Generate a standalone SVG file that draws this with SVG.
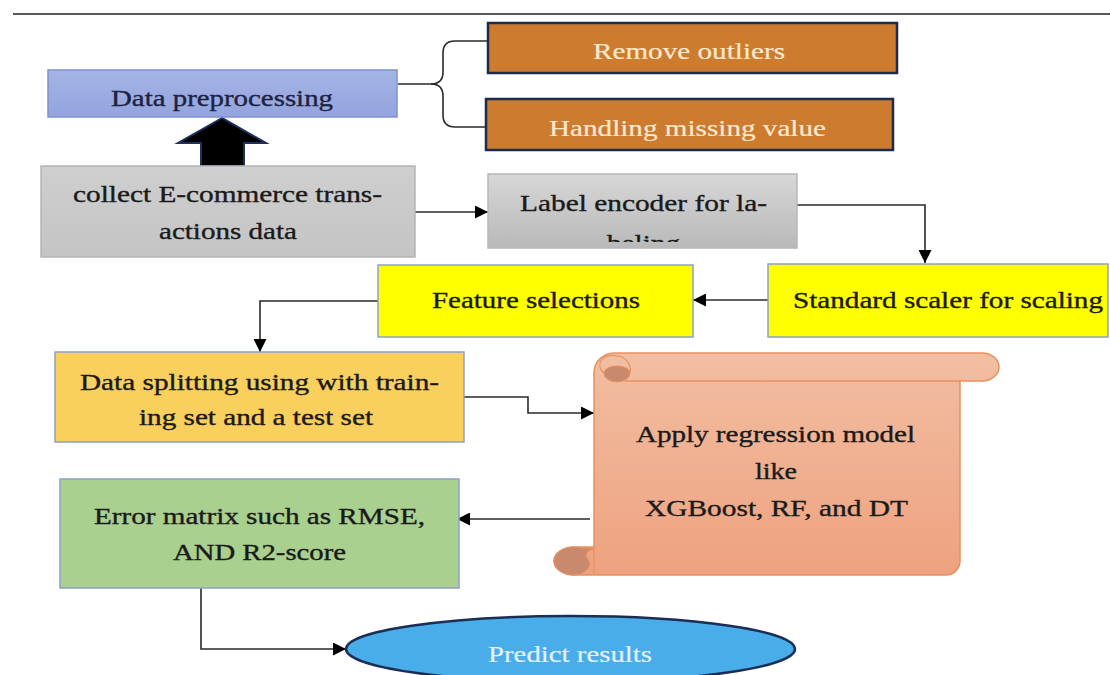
<svg xmlns="http://www.w3.org/2000/svg" width="1110" height="675" viewBox="0 0 1110 675">
<style>
.t{font-family:"Liberation Serif","Times New Roman",serif;font-size:23px;fill:#1a1a1a;stroke:#1a1a1a;stroke-width:0.35;text-anchor:middle}
.w{fill:#fbe8cf;stroke:#fbe8cf;stroke-width:0.2}
.conn{fill:none;stroke:#2a2a2a;stroke-width:1.6}
.box{stroke:#8ea0c6;stroke-width:1.5}
</style>
<defs>
<marker id="ah" viewBox="0 0 10 10" refX="10" refY="5" markerUnits="userSpaceOnUse" markerWidth="18" markerHeight="13" orient="auto">
<path d="M0,0 L10,5 L0,10 Z" fill="#000"/>
</marker>
<linearGradient id="gray" x1="0" y1="0" x2="0" y2="1">
<stop offset="0" stop-color="#d7d7d7"/><stop offset="1" stop-color="#b9b9b9"/>
</linearGradient>
<linearGradient id="gray2" x1="0" y1="0" x2="0" y2="1">
<stop offset="0" stop-color="#cfcfcf"/><stop offset="1" stop-color="#c4c4c4"/>
</linearGradient>
<linearGradient id="blue" x1="0" y1="0" x2="0" y2="1">
<stop offset="0" stop-color="#a5b4e6"/><stop offset="1" stop-color="#93a4de"/>
</linearGradient>
<linearGradient id="salmon" x1="0" y1="0" x2="0" y2="1">
<stop offset="0" stop-color="#f2bea2"/><stop offset="1" stop-color="#eea27f"/>
</linearGradient>
<clipPath id="lblclip"><rect x="488" y="174" width="309" height="68"/></clipPath>
</defs>

<line x1="13" y1="14" x2="1110" y2="14" stroke="#222" stroke-width="1.5"/>

<g id="connectors">
<path class="conn" d="M398,84 L431,84 Q443,84 443,72 L443,53 Q443,41 455,41 L487,41"/>
<path class="conn" d="M431,84 Q443,84 443,96 L443,115 Q443,127 455,127 L486,127"/>
<path class="conn" d="M415,212 L488,212" marker-end="url(#ah)"/>
<path class="conn" d="M797,205 L925,205 L925,263" marker-end="url(#ah)"/>
<path class="conn" d="M768,300 L693,300" marker-end="url(#ah)"/>
<path class="conn" d="M378,301 L260,301 L260,352" marker-end="url(#ah)"/>
<path class="conn" d="M464,397 L528,397 L528,413 L594,413" marker-end="url(#ah)"/>
<path class="conn" d="M590,519 L457,519" marker-end="url(#ah)"/>
<path class="conn" d="M201,588 L201,649 L346,649" marker-end="url(#ah)"/>
<polygon points="222,118 178,143 201,143 201,166 244,166 244,143 266,143" fill="#000" stroke="#1f3060" stroke-width="2"/>
</g>

<g id="data-preprocessing">
<rect x="48" y="70" width="349" height="47" fill="url(#blue)" stroke="#7f90cf" stroke-width="1.5"/>
<text class="t" x="222" y="106" textLength="222" lengthAdjust="spacingAndGlyphs" style="fill:#1c2340;stroke:#1c2340">Data preprocessing</text>
</g>

<g id="remove-outliers">
<rect x="488" y="23" width="409" height="50" fill="#cd7c2f" stroke="#1f2a48" stroke-width="2.5"/>
<text class="t w" x="689" y="59" textLength="192" lengthAdjust="spacingAndGlyphs">Remove outliers</text>
</g>

<g id="handling-missing">
<rect x="486" y="99" width="407" height="51" fill="#cd7c2f" stroke="#1f2a48" stroke-width="2.5"/>
<text class="t w" x="687.5" y="136" textLength="277" lengthAdjust="spacingAndGlyphs">Handling missing value</text>
</g>

<g id="collect-data">
<rect x="41" y="166" width="374" height="91" fill="url(#gray2)" stroke="#b5b5b5" stroke-width="1.5"/>
<text class="t" x="227.5" y="202" textLength="309" lengthAdjust="spacingAndGlyphs">collect E-commerce trans-</text>
<text class="t" x="228" y="239" textLength="138" lengthAdjust="spacingAndGlyphs">actions data</text>
</g>

<g id="label-encoder">
<rect x="488" y="174" width="309" height="74" fill="url(#gray)" stroke="#b8b8b8" stroke-width="1.5"/>
<text class="t" x="643.5" y="211" textLength="247" lengthAdjust="spacingAndGlyphs">Label encoder for la-</text>
<g clip-path="url(#lblclip)">
<text class="t" x="643.5" y="251" textLength="73" lengthAdjust="spacingAndGlyphs">beling</text>
</g>
</g>

<g id="standard-scaler">
<rect x="768" y="264" width="340" height="73" fill="#ffff00" class="box"/>
<text class="t" x="948" y="308" textLength="310" lengthAdjust="spacingAndGlyphs">Standard scaler for scaling</text>
</g>

<g id="feature-selections">
<rect x="378" y="265" width="315" height="72" fill="#ffff00" class="box"/>
<text class="t" x="536" y="308" textLength="208" lengthAdjust="spacingAndGlyphs">Feature selections</text>
</g>

<g id="data-splitting">
<rect x="55" y="352" width="409" height="90" fill="#f9cf5d" class="box"/>
<text class="t" x="259.5" y="390" textLength="359" lengthAdjust="spacingAndGlyphs">Data splitting using with train-</text>
<text class="t" x="256" y="425" textLength="234" lengthAdjust="spacingAndGlyphs">ing set and a test set</text>
</g>

<g id="regression-model">
<path d="M594,373 A20,20 0 0 1 614,353 L982,353 A17,14 0 0 1 982,381 L960,381 L960,561 A14,14 0 0 1 946,575 L574,575 A20,14 0 0 1 574,547 L594,547 Z" fill="url(#salmon)" stroke="#e8905f" stroke-width="1.5"/>
<path d="M625,381 L960,381" fill="none" stroke="#e8905f" stroke-width="1.5"/>
<path d="M604,373 A13,9 0 0 0 630,373 A13,7 0 0 0 604,373 Z" fill="#c9896c" stroke="#e8905f" stroke-width="1"/>
<path d="M630,373 A14,14 0 0 0 616,356 A12,10 0 0 0 604,373" fill="none" stroke="#e8905f" stroke-width="1.2"/>
<path d="M574,547 A20,14 0 0 0 574,575 A16,13 0 0 0 590,563 L586,556 A8,7 0 0 1 594,549 Z" fill="#c9896c" stroke="#e8905f" stroke-width="1"/>
<path d="M594,547 L594,575" fill="none" stroke="#e8905f" stroke-width="1.2"/>
<text class="t" x="775.5" y="442" textLength="279" lengthAdjust="spacingAndGlyphs">Apply regression model</text>
<text class="t" x="776" y="479" textLength="42" lengthAdjust="spacingAndGlyphs">like</text>
<text class="t" x="776.5" y="516" textLength="263" lengthAdjust="spacingAndGlyphs">XGBoost, RF, and DT</text>
</g>

<g id="error-matrix">
<rect x="60" y="479" width="399" height="109" fill="#a9d08e" class="box"/>
<text class="t" x="259.5" y="524" textLength="331" lengthAdjust="spacingAndGlyphs">Error matrix such as RMSE,</text>
<text class="t" x="259.5" y="560" textLength="173" lengthAdjust="spacingAndGlyphs">AND R2-score</text>
</g>

<g id="predict-results">
<ellipse cx="570.5" cy="649" rx="224.5" ry="33" fill="#49ade9" stroke="#1b2e55" stroke-width="2.5"/>
<text class="t" x="570" y="662" textLength="164" lengthAdjust="spacingAndGlyphs" style="fill:#e2f2ff;stroke:#e2f2ff;stroke-width:0.2">Predict results</text>
</g>
</svg>
